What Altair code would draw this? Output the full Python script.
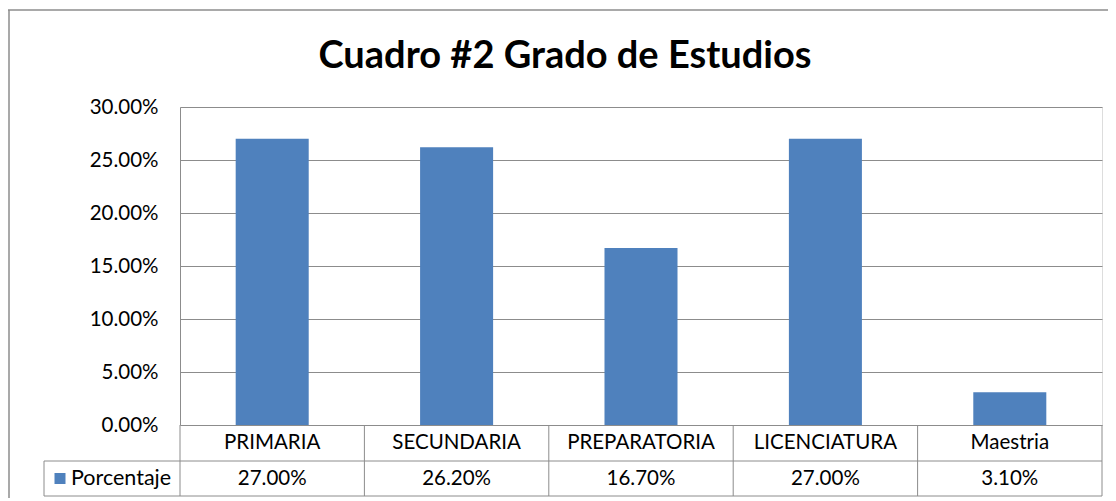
import altair as alt
import pandas as pd

categories = ["PRIMARIA", "SECUNDARIA", "PREPARATORIA", "LICENCIATURA", "Maestria"]
values = [0.27, 0.262, 0.167, 0.27, 0.031]
series_name = "Porcentaje"
title_text = "Cuadro #2 Grado de Estudios"
y_ticks = [0, 0.05, 0.10, 0.15, 0.20, 0.25, 0.30]

df = pd.DataFrame({"cat": categories, "val": values})
one = pd.DataFrame({"k": [0]})

BLUE = "#4F81BD"
GRAY = "#8C8C8C"
FONT = "Lato"
FS = 20.5
W, H = 922, 318
ROW1_Y, ROW2_Y, MID_Y, BOT_Y = 336, 371.5, 354, 389
LEFT_CELL = -136

bars = alt.Chart(df).mark_bar(color=BLUE).encode(
    x=alt.X("cat:N", sort=categories,
            scale=alt.Scale(paddingInner=0.604, paddingOuter=0.302), axis=None),
    y=alt.Y("val:Q", scale=alt.Scale(domain=[0, 0.30], nice=False),
            axis=alt.Axis(values=y_ticks, format=".2%", title=None, grid=True,
                          gridColor=GRAY, domainColor=GRAY, ticks=False,
                          labelPadding=22, labelFontSize=FS,
                          labelFont=FONT, labelColor="#000")),
)

xc = dict(sort=categories, scale=alt.Scale(paddingInner=0, paddingOuter=0), axis=None)

header = alt.Chart(df).mark_text(font=FONT, fontSize=FS, baseline="middle", color="#000").encode(
    x=alt.X("cat:N", **xc), y=alt.value(ROW1_Y), text="cat:N")
vals = alt.Chart(df).mark_text(font=FONT, fontSize=FS, baseline="middle", color="#000").encode(
    x=alt.X("cat:N", **xc), y=alt.value(ROW2_Y), text=alt.Text("val:Q", format=".2%"))
vlines = alt.Chart(df).mark_rule(color=GRAY).encode(
    x=alt.X("cat:N", bandPosition=0, **xc), y=alt.value(H), y2=alt.value(BOT_Y))

right_line = alt.Chart(one).mark_rule(color=GRAY).encode(
    x=alt.value(W), y=alt.value(H), y2=alt.value(BOT_Y))
mid_line = alt.Chart(one).mark_rule(color=GRAY).encode(
    x=alt.value(LEFT_CELL), x2=alt.value(W), y=alt.value(MID_Y))
bot_line = alt.Chart(one).mark_rule(color=GRAY).encode(
    x=alt.value(LEFT_CELL), x2=alt.value(W), y=alt.value(BOT_Y))
left_cell_line = alt.Chart(one).mark_rule(color=GRAY).encode(
    x=alt.value(LEFT_CELL), y=alt.value(MID_Y), y2=alt.value(BOT_Y))
legend_sq = alt.Chart(one).mark_square(color=BLUE, opacity=1, size=121).encode(
    x=alt.value(-120), y=alt.value(ROW2_Y))
legend_txt = alt.Chart(pd.DataFrame({"t": [series_name]})).mark_text(
    font=FONT, fontSize=21.5, baseline="middle", align="left", color="#000").encode(
    x=alt.value(-109), y=alt.value(ROW2_Y), text="t:N")

title_mark = alt.Chart(pd.DataFrame({"t": [title_text]})).mark_text(
    font=FONT, fontSize=38, fontWeight="bold", align="center",
    baseline="alphabetic", color="#000").encode(
    x=alt.value(385), y=alt.value(-39), text="t:N")

top_border = alt.Chart(one).mark_rule(color=GRAY, strokeWidth=1.5).encode(
    x=alt.value(-172), x2=alt.value(940), y=alt.value(-97))
left_border = alt.Chart(one).mark_rule(color=GRAY, strokeWidth=1.5).encode(
    x=alt.value(-171), y=alt.value(-97), y2=alt.value(420))

table = alt.layer(header, vals, vlines, right_line, mid_line, bot_line,
                  left_cell_line, legend_sq, legend_txt, title_mark,
                  top_border, left_border)

chart = alt.layer(bars, table).resolve_scale(x="independent").properties(
    width=W, height=H,
    autosize=alt.AutoSizeParams(type="none"),
    padding={"left": 172, "top": 99, "right": 6, "bottom": 73},
).configure_view(stroke=None).configure(background="white")

chart.save("out.html", embed_options={"renderer": "svg", "actions": False})
